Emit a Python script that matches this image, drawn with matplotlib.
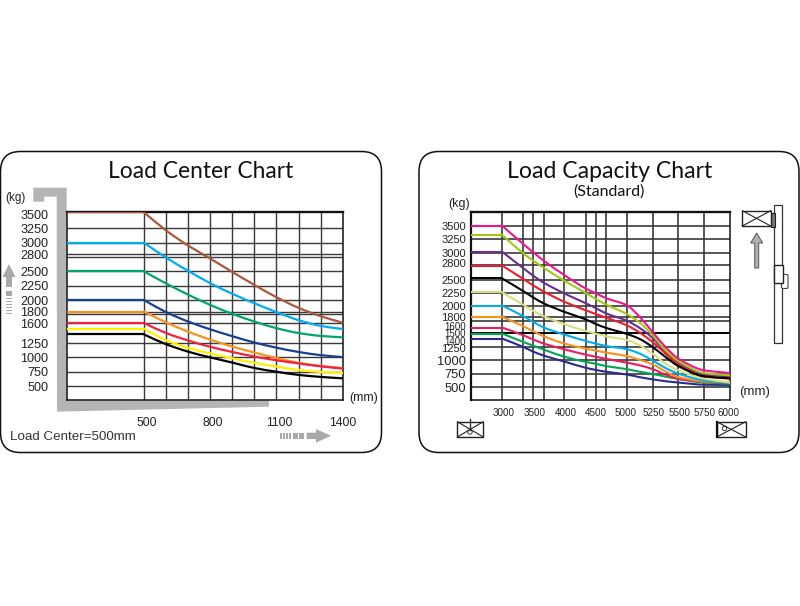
"""Recreate the forklift load center and load capacity charts."""

import matplotlib
matplotlib.use("Agg")
import matplotlib.pyplot as plt
import numpy as np
from matplotlib.patches import Circle, FancyBboxPatch, PathPatch, Polygon, Rectangle
from matplotlib.path import Path
from matplotlib.transforms import ScaledTranslation

plt.rcParams["font.family"] = ["Liberation Sans", "DejaVu Sans"]

TITLE_FONT = ["Lato", "Liberation Sans", "DejaVu Sans"]
GRID = "#3a3a3a"
ARROW_GRAY = "#a9a9a9"
BRACKET_GRAY = "#b5b5b5"

# left chart: load center (mm) against capacity (kg)
center_mm = [151, 500, 600, 700, 800, 900, 1000, 1100, 1200, 1300, 1400]
center_xticks = [500, 800, 1100, 1400]
center_xgrid = [500, 600, 700, 800, 900, 1000, 1100, 1200, 1300]
center_ygrid = [3250, 3000, 2800, 2757, 2500, 2250, 2000, 1800, 1757, 1600, 1250, 1000, 750, 500]
center_yticks = [3500, 3250, 3000, 2800, 2500, 2250, 2000, 1800, 1600, 1250, 1000, 750, 500]

center_brown = [3530, 3530, 3215, 2950, 2725, 2490, 2265, 2050, 1865, 1720, 1605]
center_cyan = [3000, 3000, 2740, 2510, 2295, 2110, 1945, 1790, 1650, 1550, 1495]
center_green = [2500, 2500, 2290, 2095, 1915, 1760, 1625, 1510, 1425, 1375, 1350]
center_navy = [2000, 2000, 1790, 1625, 1490, 1370, 1260, 1170, 1095, 1040, 1005]
center_orange = [1800, 1800, 1610, 1450, 1310, 1190, 1085, 990, 905, 850, 815]
center_red = [1600, 1600, 1425, 1295, 1185, 1095, 1015, 950, 895, 845, 805]
center_yellow = [1500, 1500, 1300, 1165, 1070, 985, 905, 840, 780, 745, 730]
center_black = [1400, 1400, 1230, 1100, 1000, 910, 815, 750, 695, 660, 635]

# right chart: lift height (mm) against capacity (kg)
height_mm = [2500, 3000, 3340, 3500, 3670, 4000, 4340, 4500, 4670, 5000, 5125, 5250, 5375, 5500, 5750, 6000]
height_xticks = [3000, 3500, 4000, 4500, 5000, 5250, 5500, 5750, 6000]
height_xgrid = [3000, 3340, 3500, 3670, 4000, 4340, 4500, 4670, 5000, 5250, 5500, 5750]
height_ygrid = [3500, 3250, 3000, 2762, 2500, 2250, 2000, 1800, 1730, 1250, 1000, 750, 500]
height_yticks = [3500, 3250, 3000, 2800, 2500, 2250, 2000, 1800, 1600, 1500, 1400, 1250, 1000, 750, 500]

height_pink = [3500, 3500, 3159, 3005, 2848, 2582, 2334, 2246, 2153, 2023, 1805, 1525, 1246, 1030, 812, 762]
height_lime = [3327, 3327, 2986, 2848, 2718, 2476, 2252, 2140, 2035, 1860, 1701, 1464, 1185, 985, 762, 719]
height_purple = [3016, 3016, 2710, 2570, 2440, 2240, 2060, 1970, 1870, 1735, 1600, 1414, 1153, 967, 732, 700]
height_red = [2759, 2759, 2510, 2390, 2275, 2085, 1930, 1860, 1790, 1650, 1514, 1339, 1123, 924, 700, 657]
height_black = [2520, 2520, 2284, 2166, 2055, 1898, 1760, 1675, 1600, 1490, 1395, 1246, 1060, 892, 700, 663]
height_olive = [2259, 2259, 2030, 1915, 1815, 1669, 1544, 1496, 1445, 1375, 1278, 1123, 937, 812, 657, 583]
height_cyan = [2017, 2017, 1818, 1712, 1607, 1477, 1358, 1309, 1265, 1205, 1123, 998, 855, 750, 626, 583]
height_orange = [1805, 1805, 1632, 1538, 1445, 1309, 1216, 1180, 1142, 1078, 1005, 925, 793, 687, 607, 594]
height_rose = [1607, 1607, 1464, 1384, 1309, 1203, 1104, 1065, 1025, 955, 905, 835, 732, 657, 600, 583]
height_green = [1496, 1496, 1339, 1270, 1197, 1065, 970, 935, 890, 835, 785, 745, 695, 650, 583, 564]
height_navy = [1402, 1402, 1246, 1160, 1085, 975, 860, 820, 785, 735, 685, 645, 610, 585, 545, 540]


def add_pixel_axes(fig, left, top, right, bottom):
    """Add axes placed by reference pixel edges."""
    return fig.add_axes(
        [left / 800, 1 - bottom / 606, (right - left) / 800, (bottom - top) / 606],
        facecolor="none",
    )


def shift_labels(labels, offsets, fig):
    """Nudge tick labels by a few pixels (dx, dy with y upward)."""
    for label, (dx, dy) in zip(labels, offsets):
        label.set_transform(label.get_transform() + ScaledTranslation(dx / 100, dy / 100, fig.dpi_scale_trans))


def draw_curve(ax, x, y, color, lw):
    """Draw the flat run, then a smooth bezier through the read points."""
    ax.plot(x[:2], y[:2], color=color, lw=lw, zorder=3, solid_capstyle="butt")

    scale = ax.xaxis.get_transform()
    u = scale.transform(np.asarray(x[1:], dtype=float))
    v = np.asarray(y[1:], dtype=float)
    secants = np.diff(v) / np.diff(u)
    tangents = np.empty_like(v)
    tangents[0], tangents[-1] = secants[0], secants[-1]
    for i in range(1, len(v) - 1):
        a, b = secants[i - 1], secants[i]
        tangents[i] = 2 * a * b / (a + b) if a * b > 0 else 0.0

    verts = [(x[1], v[0])]
    codes = [Path.MOVETO]
    for i in range(len(v) - 1):
        step = (u[i + 1] - u[i]) / 3
        ctrl_u = np.array([u[i] + step, u[i + 1] - step])
        ctrl_x = scale.inverted().transform(ctrl_u)
        verts += [
            (ctrl_x[0], v[i] + tangents[i] * step),
            (ctrl_x[1], v[i + 1] - tangents[i + 1] * step),
            (x[i + 2], v[i + 1]),
        ]
        codes += [Path.CURVE4, Path.CURVE4, Path.CURVE4]
    ax.add_patch(PathPatch(Path(verts, codes), fc="none", ec=color, lw=lw, zorder=3, capstyle="round"))


def draw_box_icon(ax, left, top, right, bottom):
    """Draw a crossed pallet load."""
    ax.add_patch(Rectangle((left + 1, top + 1), right - left, bottom - top, fc="#8c8c8c", ec="none"))
    ax.add_patch(Rectangle((left, top), right - left, bottom - top, fc="white", ec="#222222", lw=1.0))
    ax.plot([left, right], [top, bottom], color="#222222", lw=0.8)
    ax.plot([left, right], [bottom, top], color="#222222", lw=0.8)


def draw_background(fig):
    """Draw the cards, gray bracket, arrows and forklift icons in pixel space."""
    ax = fig.add_axes([0, 0, 1, 1], zorder=-1)
    ax.set_xlim(0, 800)
    ax.set_ylim(606, 0)
    ax.axis("off")

    for left, right in [(0.5, 381.5), (419, 799)]:
        ax.add_patch(FancyBboxPatch(
            (left + 20, 171.5), right - left - 40, 261,
            boxstyle="round,pad=20,rounding_size=20",
            fc="white", ec="#111111", lw=1.1,
        ))

    bracket = [(33.3, 187.7), (66.7, 187.7), (66.7, 400.5), (269, 400.5), (269, 406.7),
               (57, 411.7), (56.7, 196.7), (44.3, 196.7), (44.3, 201.7), (33.3, 201.7)]
    ax.add_patch(Polygon(bracket, fc=BRACKET_GRAY, ec="none"))

    # up arrow on the left edge
    up_arrow = [(9, 264), (15.5, 277), (12, 277), (12, 287), (6, 287), (6, 277), (2.5, 277)]
    ax.add_patch(Polygon(up_arrow, fc=ARROW_GRAY, ec="none"))
    ax.add_patch(Rectangle((6, 291), 6, 5, fc=ARROW_GRAY, ec="none"))
    for y in [298, 301, 304, 307, 310, 313]:
        ax.add_patch(Rectangle((6, y), 6, 1.4, fc=ARROW_GRAY, ec="none"))

    # right arrow under the left chart
    right_arrow = [(306.7, 432.7), (316, 432.7), (316, 429), (331, 435.8), (316, 442.7), (316, 439), (306.7, 439)]
    ax.add_patch(Polygon(right_arrow, fc=ARROW_GRAY, ec="none"))
    for x in [280, 283, 286, 289]:
        ax.add_patch(Rectangle((x, 432.7), 1.5, 6.3, fc=ARROW_GRAY, ec="none"))
    for x in [293, 299]:
        ax.add_patch(Rectangle((x, 432.7), 4.5, 6.3, fc=ARROW_GRAY, ec="none"))

    # lift mast, carriage and load
    ax.add_patch(Rectangle((774.3, 205), 7.4, 138, fc="white", ec="#333333", lw=0.9))
    ax.add_patch(FancyBboxPatch((783, 276), 3.5, 11, boxstyle="round,pad=1.5", fc="white", ec="#444444", lw=0.8))
    ax.add_patch(Rectangle((774.3, 265), 8.7, 18, fc="white", ec="#222222", lw=1.0))
    ax.add_patch(Rectangle((770.7, 213), 4, 14, fc="#777777", ec="#222222", lw=0.8))
    draw_box_icon(ax, 742.3, 210.7, 770.7, 226)
    lift_arrow = [(756.7, 233), (762.7, 243), (758.7, 243), (758.7, 268), (754.7, 268), (754.7, 243), (750.7, 243)]
    ax.add_patch(Polygon(lift_arrow, fc="#b0b0b0", ec="#555555", lw=0.7))

    # pallet icons under the right chart
    draw_box_icon(ax, 457.3, 421.7, 483.3, 437)
    ax.plot([470, 470], [419, 430], color="#333333", lw=1.0)
    ax.add_patch(Circle((470, 432), 2.2, fc="white", ec="#333333", lw=0.7))
    draw_box_icon(ax, 716.7, 421.7, 745.7, 437)
    ax.plot([716.7, 716.7], [421.7, 437], color="#111111", lw=1.6)
    ax.add_patch(Circle((724.5, 428.5), 2.2, fc="white", ec="#333333", lw=0.7))

    # headings and free labels
    ax.text(200.5, 171, "Load Center Chart", family=TITLE_FONT, fontsize=16.4, ha="center", va="center", color="#111111")
    ax.text(610, 171, "Load Capacity Chart", family=TITLE_FONT, fontsize=16.6, ha="center", va="center", color="#111111")
    ax.text(609, 192, "(Standard)", family=TITLE_FONT, fontsize=11.5, ha="center", va="center", color="#111111")
    ax.text(15.5, 197.5, "(kg)", fontsize=8.5, ha="center", va="center", color="#222222")
    ax.text(459, 204, "(kg)", fontsize=9, ha="center", va="center", color="#222222")
    ax.text(363.5, 398.5, "(mm)", fontsize=9, ha="center", va="center", color="#222222")
    ax.text(755, 392, "(mm)", fontsize=9.5, ha="center", va="center", color="#222222")
    ax.text(10, 437.5, "Load Center=500mm", fontsize=9.6, ha="left", va="center", color="#333333")


def style_chart(ax, xgrid, ygrid, grid_lw):
    """Apply the grid and frame shared by both charts."""
    ax.vlines(xgrid, 0, 1, transform=ax.get_xaxis_transform(), color=GRID, lw=grid_lw, zorder=1)
    ax.hlines(ygrid, 0, 1, transform=ax.get_yaxis_transform(), color=GRID, lw=grid_lw, zorder=1)
    ax.tick_params(length=0)
    for spine in ax.spines.values():
        spine.set_color("#111111")
        spine.set_linewidth(1.1)
    ax.spines["top"].set_linewidth(1.7)


def plot_load_center(fig):
    """Plot capacity against load center."""
    ax = add_pixel_axes(fig, 67, 212, 342.7, 400.4)
    ax.set_xlim(151, 1400)
    ax.set_ylim(250, 3537)
    series = [
        (center_brown, "#a9573d"), (center_cyan, "#00aeef"), (center_green, "#00a66c"),
        (center_navy, "#17408f"), (center_orange, "#f7921e"), (center_red, "#ee2342"),
        (center_yellow, "#fff100"), (center_black, "#000000"),
    ]
    for values, color in series:
        draw_curve(ax, center_mm, values, color, 1.6)
    style_chart(ax, center_xgrid, center_ygrid, 1.0)
    ax.set_xticks(center_xticks, [str(v) for v in center_xticks], fontsize=8.8, color="#222222")
    ax.set_yticks(center_yticks, [str(v) for v in center_yticks], fontsize=9.1, color="#222222")
    ax.tick_params(axis="x", pad=12)
    ax.tick_params(axis="y", pad=13.5)
    shift_labels(ax.get_xticklabels(), [(3, 0), (2, 0), (3, 0), (0, 0)], fig)


def plot_load_capacity(fig):
    """Plot capacity against lift height on the stretched upper scale."""
    ax = add_pixel_axes(fig, 471, 212, 730, 400.4)
    # 5000 to 6000 mm takes more width per mm than the range below it
    knots = [2500.0, 5000.0, 6000.0]
    pixels = [0.0, 155.7, 259.0]
    ax.set_xscale("function", functions=(
        lambda v: np.interp(v, knots, pixels),
        lambda p: np.interp(p, pixels, knots),
    ))
    ax.set_xlim(2500, 6000)
    ax.set_ylim(253, 3755)
    series = [
        (height_navy, "#2b2a8f"), (height_green, "#00a651"), (height_rose, "#ee1c5e"),
        (height_orange, "#f7921e"), (height_cyan, "#00aeef"), (height_olive, "#d8df7e"),
        (height_purple, "#6a2e91"), (height_lime, "#a0c814"), (height_red, "#ee1c2e"),
        (height_black, "#000000"), (height_pink, "#ec178c"),
    ]
    for values, color in series:
        draw_curve(ax, height_mm, values, color, 1.5)
    style_chart(ax, height_xgrid, height_ygrid, 1.2)
    ax.spines["left"].set_linewidth(1.6)
    ax.hlines([1500], 0, 1, transform=ax.get_yaxis_transform(), color="#000000", lw=1.4, zorder=2)
    ax.set_xticks(height_xticks, [str(v) for v in height_xticks], fontsize=7.1, color="#222222")
    ax.set_yticks(height_yticks, [str(v) for v in height_yticks], fontsize=8, color="#222222")
    ax.minorticks_off()
    ax.tick_params(axis="x", pad=5.5)
    ax.tick_params(axis="y", pad=3.5)
    nudges = []
    for label in ax.get_yticklabels():
        text = label.get_text()
        if text in ("1000", "750", "500"):
            label.set_fontsize(9.3)
        if text in ("1600", "1500", "1400"):
            label.set_fontsize(7)
        nudges.append({"1600": (0, 2), "1400": (0, -2), "1250": (0, -1.5)}.get(text, (0, 0)))
    shift_labels(ax.get_yticklabels(), nudges, fig)
    shift_labels(ax.get_xticklabels(), [(1, 0), (1, 0), (1, 0), (0, 0), (-1, 0), (1, 0), (1, 0), (0, 0), (-1, 0)], fig)


def main():
    fig = plt.figure(figsize=(8, 6.06), dpi=100, facecolor="white")
    draw_background(fig)
    plot_load_center(fig)
    plot_load_capacity(fig)
    fig.savefig("out.png", dpi=100)
    plt.close(fig)


if __name__ == "__main__":
    main()
